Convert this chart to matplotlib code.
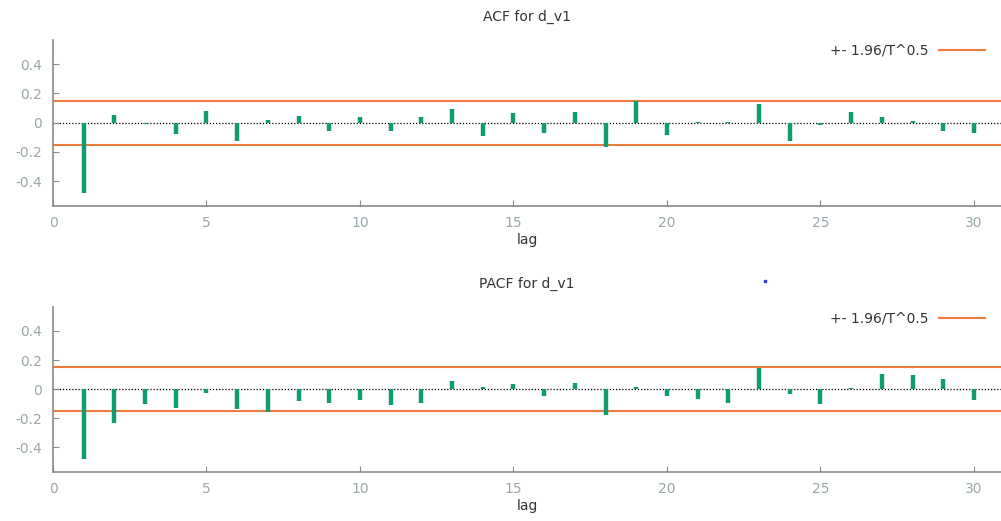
import matplotlib
matplotlib.use("Agg")
import matplotlib.pyplot as plt
from matplotlib.lines import Line2D

lags = list(range(1, 31))
acf_vals = [-0.482, 0.055, -0.01, -0.078, 0.082, -0.128, 0.02, 0.046, -0.055, 0.039,
            -0.055, 0.039, 0.094, -0.089, 0.066, -0.071, 0.075, -0.164, 0.146, -0.084,
            0.005, 0.005, 0.128, -0.128, -0.016, 0.075, 0.037, 0.008, -0.055, -0.071]
pacf_vals = [-0.482, -0.235, -0.105, -0.132, -0.025, -0.139, -0.155, -0.082, -0.094, -0.073,
             -0.112, -0.096, 0.059, 0.018, 0.037, -0.048, 0.041, -0.178, 0.014, -0.048,
             -0.066, -0.094, 0.146, -0.032, -0.105, 0.011, 0.105, 0.096, 0.073, -0.075]
band = 0.151
titles = ["ACF for d_v1", "PACF for d_v1"]
band_label = "+- 1.96/T^0.5"
xticks = [0, 5, 10, 15, 20, 25, 30]
yticks = [-0.4, -0.2, 0, 0.2, 0.4]
ytick_labels = ["-0.4", "-0.2", "0", "0.2", "0.4"]

W, H = 1001, 521
fig = plt.figure(figsize=(W / 100, H / 100), dpi=100)

green = "#119b72"
orange = "#ec7a3c"
tickc = "#97a7aa"
spinec = "#8a8a8a"
textc = "#333333"
fs = 10

panels = [
    (acf_vals, titles[0], 40, 206, 51, 17),
    (pacf_vals, titles[1], 307, 472, 319, 284),
]
for vals, title, ytop, ybot, legy, ty in panels:
    ax = fig.add_axes([53 / W, 1 - ybot / H, 1 - 53 / W, (ybot - ytop) / H])
    ax.set_xlim(0, 30.88)
    ax.set_ylim(-0.57, 0.565)
    ax.axhline(0, color="black", lw=0.9, ls=(0, (1, 1.5)), zorder=1)
    ax.vlines(lags, 0, vals, color=green, lw=3.2, zorder=3)
    ax.axhline(band, color=orange, lw=1.5, zorder=2, label=band_label)
    ax.axhline(-band, color=orange, lw=1.5, zorder=2)
    for s in ["top", "right"]:
        ax.spines[s].set_visible(False)
    for s in ["left", "bottom"]:
        ax.spines[s].set_color(spinec)
        ax.spines[s].set_linewidth(1.2)
    ax.set_xticks(xticks)
    ax.set_yticks(yticks)
    ax.set_yticklabels(ytick_labels)
    ax.tick_params(direction="in", length=4, color=spinec, labelcolor=tickc,
                   labelsize=fs)
    ax.tick_params(axis="y", pad=8)
    ax.tick_params(axis="x", pad=7)
    ax.set_xlabel("lag", fontsize=fs, color=textc, labelpad=2.5)
    leg = ax.legend(loc="center right", bbox_to_anchor=(985 / W, 1 - legy / H),
                    bbox_transform=fig.transFigure, frameon=False, markerfirst=False,
                    fontsize=fs, handlelength=3.3, handletextpad=0.8, borderpad=0,
                    borderaxespad=0)
    for t in leg.get_texts():
        t.set_color(textc)
    fig.text(527 / W, 1 - ty / H, title, ha="center", va="center",
             fontsize=fs, color=textc)

fig.add_artist(Line2D([765 / W], [1 - 281 / H], marker="s", ms=2, color="#3333ee",
                      transform=fig.transFigure, lw=0))

fig.savefig("out.png", dpi=100)
